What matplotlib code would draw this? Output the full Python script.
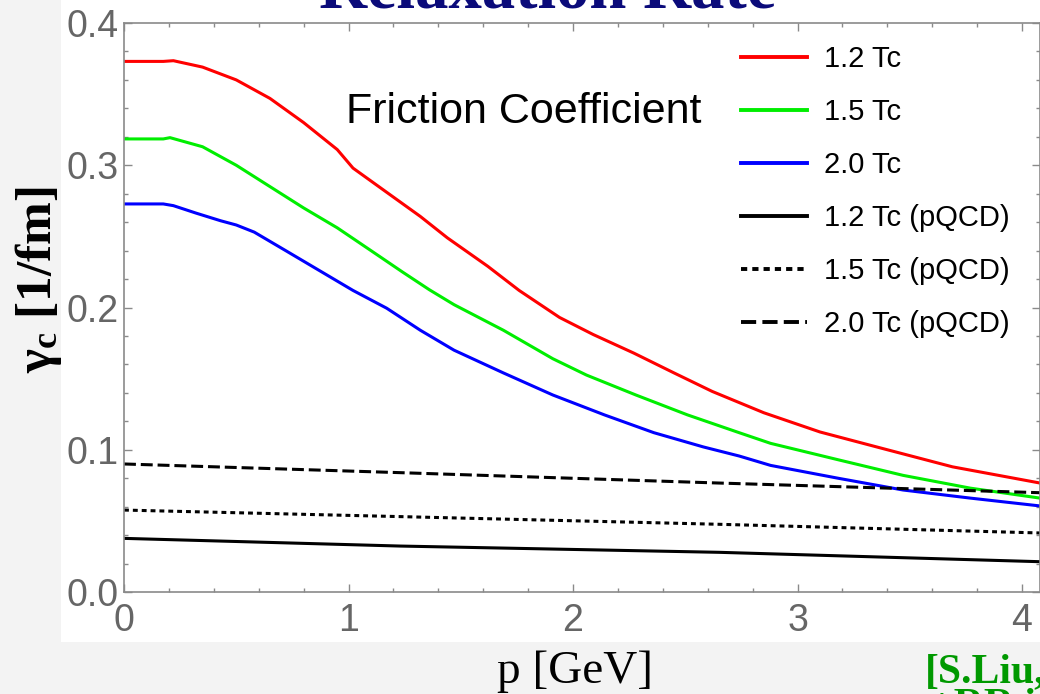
import matplotlib.pyplot as plt
import matplotlib.patches as mpatches
import numpy as np

plt.rcParams['mathtext.fontset'] = 'custom'
plt.rcParams['mathtext.rm'] = 'Liberation Serif'
plt.rcParams['mathtext.bf'] = 'Liberation Serif:bold'
plt.rcParams['mathtext.it'] = 'Liberation Serif:italic'

# friction coefficient (1/fm) vs momentum p (GeV)
p_12 = [0, 0.175, 0.22, 0.35, 0.50, 0.65, 0.80, 0.95, 1.02, 1.17, 1.32, 1.44, 1.62,
        1.76, 1.94, 2.09, 2.27, 2.45, 2.62, 2.85, 3.10, 3.40, 3.69, 4.08]
gam_12 = [0.373, 0.373, 0.3735, 0.369, 0.360, 0.347, 0.330, 0.311, 0.298, 0.281, 0.264,
          0.249, 0.229, 0.212, 0.193, 0.181, 0.168, 0.154, 0.141, 0.126, 0.1125, 0.100,
          0.088, 0.0766]

p_15 = [0, 0.175, 0.205, 0.35, 0.50, 0.65, 0.80, 0.95, 1.10, 1.24, 1.36, 1.47, 1.69,
        1.91, 2.06, 2.28, 2.51, 2.74, 2.88, 3.18, 3.47, 3.77, 4.08]
gam_15 = [0.3185, 0.3185, 0.3194, 0.313, 0.300, 0.285, 0.270, 0.256, 0.240, 0.225, 0.2125,
          0.202, 0.184, 0.164, 0.1525, 0.1385, 0.1245, 0.112, 0.1045, 0.093, 0.082,
          0.073, 0.066]

p_20 = [0, 0.175, 0.22, 0.32, 0.43, 0.50, 0.58, 0.72, 0.87, 1.02, 1.17, 1.32, 1.47,
        1.69, 1.91, 2.14, 2.36, 2.58, 2.74, 2.88, 3.18, 3.47, 3.77, 4.08]
gam_20 = [0.2728, 0.2728, 0.2716, 0.2664, 0.261, 0.258, 0.253, 0.240, 0.226, 0.212,
          0.1995, 0.184, 0.170, 0.154, 0.1385, 0.1245, 0.112, 0.102, 0.0956, 0.089,
          0.080, 0.0717, 0.066, 0.0605]

# pQCD results
p_pqcd = [0, 1.23, 2.65, 4.08]
pqcd_12 = [0.0377, 0.0323, 0.0279, 0.0213]
pqcd_15 = [0.0576, 0.0530, 0.0476, 0.0415]
pqcd_20 = [0.0900, 0.0839, 0.0766, 0.0698]

labels = ['1.2 Tc', '1.5 Tc', '2.0 Tc', '1.2 Tc (pQCD)', '1.5 Tc (pQCD)', '2.0 Tc (pQCD)']

W, H = 1040, 694
fig = plt.figure(figsize=(W / 100, H / 100), dpi=100)
fig.patch.set_facecolor('#f3f3f3')
# white panel behind the graph
fig.patches.append(mpatches.Rectangle((61 / W, 1 - 642 / H), 1 - 61 / W, 642 / H,
                                      transform=fig.transFigure, facecolor='white',
                                      edgecolor='none', zorder=-5))

ax = fig.add_axes([124 / W, 1 - 592 / H, 1 - 124 / W, (592 - 23) / H])
ax.set_zorder(2)
ax.set_facecolor('white')

lw = 2.2
ax.plot(p_12, gam_12, color='#ff0000', lw=lw, label=labels[0])
ax.plot(p_15, gam_15, color='#00ee00', lw=lw, label=labels[1])
ax.plot(p_20, gam_20, color='#0000ff', lw=lw, label=labels[2])
ax.plot(p_pqcd, pqcd_12, color='black', lw=lw, label=labels[3])
ax.plot(p_pqcd, pqcd_15, color='black', lw=lw, dashes=(1.6, 1.3), label=labels[4])
ax.plot(p_pqcd, pqcd_20, color='black', lw=lw, dashes=(3.9, 1.6), label=labels[5])

ax.set_xlim(0, 4.08)
ax.set_ylim(0, 0.4)
ax.set_xticks([0, 1, 2, 3, 4])
ax.set_xticklabels(['0', '1', '2', '3', '4'])
ax.set_yticks([0, 0.1, 0.2, 0.3, 0.4])
ax.set_yticklabels(['0.0', '0.1', '0.2', '0.3', '0.4'])
ax.set_xticks(np.arange(0, 4.1, 0.2), minor=True)
ax.set_yticks(np.arange(0, 0.401, 0.02), minor=True)

for s in ax.spines.values():
    s.set_color('#8a8a8a')
    s.set_linewidth(1.2)
ax.tick_params(which='both', direction='in', top=True, right=True, color='#8a8a8a',
               width=1.0, labelcolor='#666666', labelfontfamily='Liberation Sans',
               labelsize=27)
ax.tick_params(which='major', length=5.5)
ax.tick_params(which='minor', length=3.2)
ax.tick_params(axis='x', pad=8)
ax.tick_params(axis='y', pad=4)

ax.text(0.99, 0.33, 'Friction Coefficient', fontsize=31, family='Liberation Sans',
        va='baseline', ha='left')

leg = ax.legend(loc='upper left', bbox_to_anchor=(741 / W, 1 - 45 / H),
                bbox_transform=fig.transFigure, frameon=False, borderpad=0,
                borderaxespad=0, handlelength=2.26, handletextpad=0.58,
                labelspacing=0.86, prop={'family': 'Liberation Sans', 'size': 21})
for h in leg.get_lines():
    h.set_linewidth(2.8)

# slide decorations around the plot
fig.text(548 / W, 1 - 8 / H, 'Relaxation Rate', fontsize=48, family='Liberation Serif',
         fontweight='bold', color='#0b0b7a', ha='center', va='baseline')
fig.text(575 / W, 1 - 683 / H, 'p [GeV]', fontsize=34, family='Liberation Serif',
         ha='center', va='baseline')
fig.text(39 / W, 1 - 280 / H, r'$\mathbf{\gamma_c}$ [1/fm]', fontsize=37,
         family='Liberation Serif', fontweight='bold', rotation=90,
         ha='center', va='center')
fig.text(925 / W, 1 - 682 / H, '[S.Liu,', fontsize=30,
         family='Liberation Serif', fontweight='bold', color='#009900',
         ha='left', va='baseline')
fig.text(930 / W, 1 - 717 / H, '+RR in prep]', fontsize=30,
         family='Liberation Serif', fontweight='bold', color='#009900',
         ha='left', va='baseline')

fig.savefig('out.png', dpi=100, facecolor=fig.get_facecolor())
